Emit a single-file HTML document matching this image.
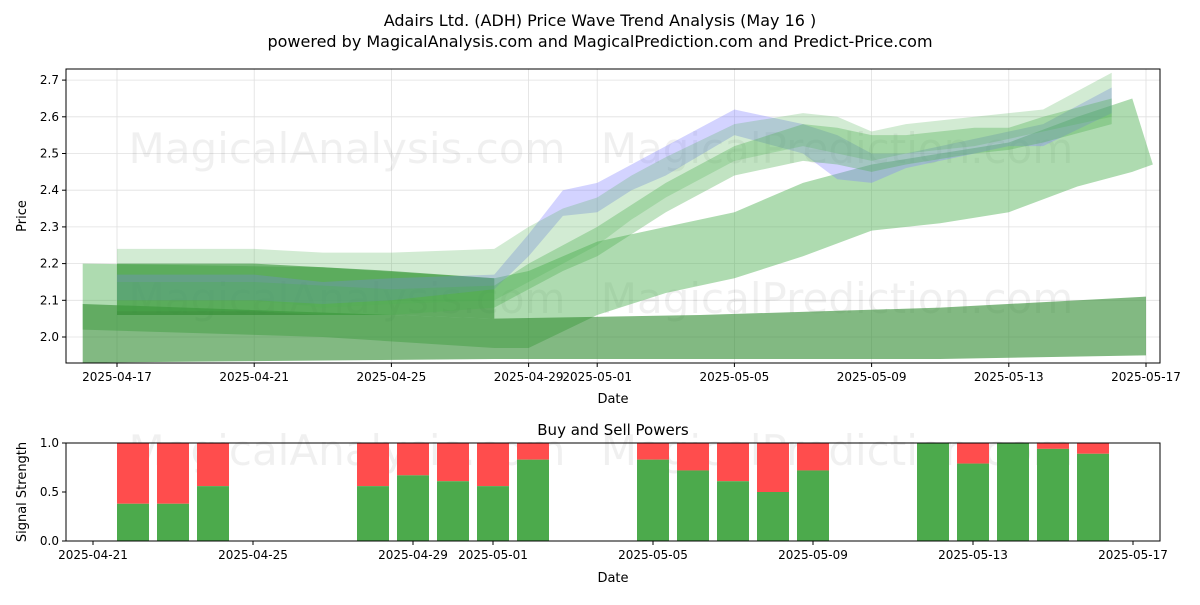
<!DOCTYPE html>
<html><head><meta charset="utf-8"><style>
body{margin:0;background:#fff;font-family:"Liberation Sans","DejaVu Sans",sans-serif;}
svg text{font-family:"DejaVu Sans","Liberation Sans",sans-serif;}
</style></head><body>
<svg id="c" width="1200" height="600" xmlns="http://www.w3.org/2000/svg"></svg>
<script>
// ---- data ----
const bandDays = [
 [0,7,12,13,15,17,19,21,23,25,27,29,30.6,31.2],
 [0,12,18,25,31],
 [1,5,9,12],
 [1,5,7,9,12,13,14,15,16,17,19,21,22,23,24,26,27,28,30],
 [1,5,7,9,12,13,14,15,16,17,19,21,22,23,24,26,27,28,30],
 [1,5,7,9,12,13,14,15,16,17,19,21,22,23,24,26,27,28,30]
];
const bandUpper = [
 [2.20,2.19,2.16,2.18,2.26,2.30,2.34,2.42,2.47,2.50,2.53,2.60,2.65,2.47],
 [2.09,2.05,2.06,2.08,2.11],
 [2.20,2.20,2.18,2.16],
 [2.17,2.17,2.15,2.16,2.17,2.28,2.40,2.42,2.47,2.52,2.62,2.58,2.55,2.50,2.50,2.54,2.56,2.58,2.68],
 [2.24,2.24,2.23,2.23,2.24,2.30,2.35,2.38,2.44,2.49,2.58,2.61,2.60,2.56,2.58,2.60,2.61,2.62,2.72],
 [2.15,2.15,2.14,2.13,2.14,2.20,2.25,2.30,2.36,2.42,2.52,2.58,2.57,2.55,2.55,2.57,2.57,2.60,2.65]
];
const bandLower = [
 [2.02,2.00,1.97,1.97,2.06,2.12,2.16,2.22,2.29,2.31,2.34,2.41,2.45,2.47],
 [1.93,1.94,1.94,1.94,1.95],
 [2.06,2.06,2.06,2.05],
 [2.10,2.10,2.09,2.10,2.13,2.22,2.33,2.34,2.40,2.44,2.55,2.50,2.43,2.42,2.46,2.50,2.52,2.52,2.61],
 [2.10,2.10,2.08,2.09,2.10,2.15,2.20,2.25,2.32,2.38,2.48,2.52,2.50,2.48,2.50,2.52,2.54,2.56,2.60],
 [2.07,2.07,2.06,2.06,2.08,2.13,2.18,2.22,2.28,2.34,2.44,2.48,2.47,2.45,2.47,2.50,2.51,2.53,2.58]
];
const bandColor = ["#4caf50","#2e8b2e","#2e8b2e","#8080ff","#4caf50","#4caf50"];
const bandAlpha = [0.45,0.6,0.6,0.35,0.25,0.35];
const yTicks = [2.0,2.1,2.2,2.3,2.4,2.5,2.6,2.7];
const xTickLabels = ["2025-04-17","2025-04-21","2025-04-25","2025-04-29","2025-05-01","2025-05-05","2025-05-09","2025-05-13","2025-05-17"];
const xTickDays = [1,5,9,13,15,19,23,27,31];
const barDays = [6,7,8,12,13,14,15,16,19,20,21,22,23,26,27,28,29,30];
const buyVals = [0.38,0.38,0.56,0.56,0.67,0.61,0.56,0.83,0.83,0.72,0.61,0.5,0.72,1.0,0.79,1.0,0.94,0.89];
const bTicks = [0,0.5,1.0];

const svg=document.getElementById('c');const NS="http://www.w3.org/2000/svg";
function el(t,a,txt){const e=document.createElementNS(NS,t);for(const k in a)e.setAttribute(k,a[k]);if(txt!==undefined)e.textContent=txt;svg.appendChild(e);return e;}
const L=66,R=1160,T=69,B=363;
const X=d=>117+(d-1)*34.3;
const Y=v=>337-(v-2.0)*367;
const BT=443,BB=541;
const X2=d=>93+(d-5)*40;
const Y2=v=>BB-v*(BB-BT);

let t;
t=el('text',{x:600,y:26,'text-anchor':'middle','font-size':16},'Adairs Ltd. (ADH) Price Wave Trend Analysis (May 16 )');

t=el('text',{x:600,y:47,'text-anchor':'middle','font-size':16},'powered by MagicalAnalysis.com and MagicalPrediction.com and Predict-Price.com');


yTicks.forEach(v=>{const g=el('line',{x1:L,x2:R,y1:Y(v),y2:Y(v),stroke:'#e0e0e0','stroke-width':0.8});});
xTickDays.forEach(d=>{const g=el('line',{x1:X(d),x2:X(d),y1:T,y2:B,stroke:'#e0e0e0','stroke-width':0.8});});

[[347,163,'MagicalAnalysis.com'],[837,163,'MagicalPrediction.com'],[347,313,'MagicalAnalysis.com'],[837,313,'MagicalPrediction.com'],[347,465,'MagicalAnalysis.com'],[837,465,'MagicalPrediction.com']].forEach(w=>{
 const e=el('text',{x:w[0],y:w[1],'text-anchor':'middle','font-size':42,fill:'#000','fill-opacity':0.06},w[2]);
 });

bandDays.forEach((ds,i)=>{
 let pts=ds.map((d,j)=>X(d)+','+Y(bandUpper[i][j]));
 for(let j=ds.length-1;j>=0;j--)pts.push(X(ds[j])+','+Y(bandLower[i][j]));
 const p=el('polygon',{points:pts.join(' '),fill:bandColor[i],'fill-opacity':bandAlpha[i]});
 
});

let f=el('rect',{x:L,y:T,width:R-L,height:B-T,fill:'none',stroke:'#000','stroke-width':1});

yTicks.forEach(v=>{el('line',{x1:L-4,x2:L,y1:Y(v),y2:Y(v),stroke:'#000'});
 const e=el('text',{x:L-7,y:Y(v)+4,'text-anchor':'end','font-size':12},v.toFixed(1));});
xTickDays.forEach((d,i)=>{el('line',{x1:X(d),x2:X(d),y1:B,y2:B+4,stroke:'#000'});
 const e=el('text',{x:X(d),y:B+18,'text-anchor':'middle','font-size':12},xTickLabels[i]);});
t=el('text',{x:613,y:403,'text-anchor':'middle','font-size':13},'Date');
t=el('text',{x:26,y:216,'text-anchor':'middle','font-size':13,transform:'rotate(-90 26 216)'},'Price');

t=el('text',{x:613,y:435,'text-anchor':'middle','font-size':15},'Buy and Sell Powers');
barDays.forEach((d,i)=>{
 const cx=X2(d),w=32;
 const s=el('rect',{x:cx-w/2,y:Y2(1),width:w,height:Y2(buyVals[i])-Y2(1),fill:'#ff4d4d'});
 
 const b=el('rect',{x:cx-w/2,y:Y2(buyVals[i]),width:w,height:Y2(0)-Y2(buyVals[i]),fill:'#4caa4c'});
 
});
f=el('rect',{x:L,y:BT,width:R-L,height:BB-BT,fill:'none',stroke:'#000','stroke-width':1});

bTicks.forEach(v=>{el('line',{x1:L-4,x2:L,y1:Y2(v),y2:Y2(v),stroke:'#000'});
 const e=el('text',{x:L-7,y:Y2(v)+4,'text-anchor':'end','font-size':12},v.toFixed(1));});
xTickDays.forEach((d,i)=>{if(d<5)return;el('line',{x1:X2(d),x2:X2(d),y1:BB,y2:BB+4,stroke:'#000'});
 const e=el('text',{x:X2(d),y:BB+18,'text-anchor':'middle','font-size':12},xTickLabels[i]);});
t=el('text',{x:613,y:582,'text-anchor':'middle','font-size':13},'Date');
t=el('text',{x:26,y:492,'text-anchor':'middle','font-size':13,transform:'rotate(-90 26 492)'},'Signal Strength');
</script>
</body></html>
